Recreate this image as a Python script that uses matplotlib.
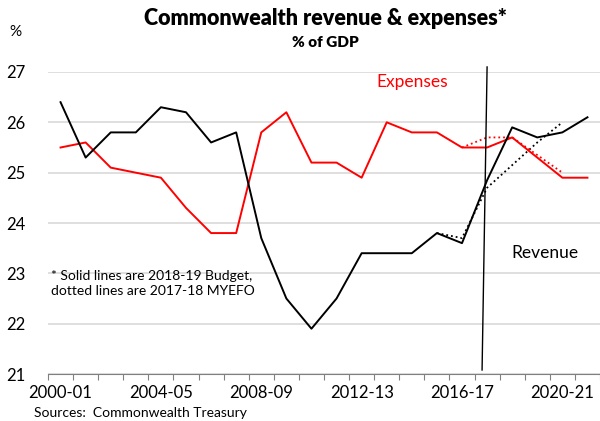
import matplotlib.pyplot as plt
import numpy as np

plt.rcParams['font.family'] = ['Lato', 'DejaVu Sans']

years = ['2000-01', '2001-02', '2002-03', '2003-04', '2004-05', '2005-06',
         '2006-07', '2007-08', '2008-09', '2009-10', '2010-11', '2011-12',
         '2012-13', '2013-14', '2014-15', '2015-16', '2016-17', '2017-18',
         '2018-19', '2019-20', '2020-21', '2021-22']

# 2018-19 Budget (solid)
revenue = [26.4, 25.3, 25.8, 25.8, 26.3, 26.2, 25.6, 25.8, 23.7, 22.5, 21.9,
           22.5, 23.4, 23.4, 23.4, 23.8, 23.6, 24.85, 25.9, 25.7, 25.8, 26.1]
expenses = [25.5, 25.6, 25.1, 25.0, 24.9, 24.3, 23.8, 23.8, 25.8, 26.2, 25.2,
            25.2, 24.9, 26.0, 25.8, 25.8, 25.5, 25.5, 25.7, 25.3, 24.9, 24.9]

# 2017-18 MYEFO (dotted)
myefo_rev_years = years[15:21]
myefo_revenue = [23.8, 23.7, 24.7, 25.15, 25.6, 26.0]
myefo_exp_years = years[16:21]
myefo_expenses = [25.5, 25.7, 25.7, 25.35, 25.0]

tick_labels = ['2000-01', '2004-05', '2008-09', '2012-13', '2016-17', '2020-21']

x = np.arange(len(years))
x_rev = [years.index(y) for y in myefo_rev_years]
x_exp = [years.index(y) for y in myefo_exp_years]

fig = plt.figure(figsize=(6, 4.21), dpi=100)
ax = fig.add_axes([0.08, 0.1116, 0.92, 0.7174])

ax.set_ylim(21, 27)
ax.set_xlim(-0.5, len(years) - 0.5)
ax.set_yticks(range(21, 28))
ax.grid(axis='y', color='#d9d9d9', linewidth=1.2)
ax.set_axisbelow(True)

# dotted MYEFO lines
ax.plot(x_rev, myefo_revenue, color='black', linestyle=':', linewidth=1.3)
ax.plot(x_exp, myefo_expenses, color='red', linestyle=':', linewidth=1.3)

ax.plot(x, expenses, color='red', linewidth=1.4)
ax.plot(x, revenue, color='black', linewidth=1.4)

# budget marker line
ax.plot([16.8, 17.0], [21.08, 27.1], color='black', linewidth=1, clip_on=False)

for s in ['top', 'right', 'left']:
    ax.spines[s].set_visible(False)
ax.spines['bottom'].set_color('#808080')

ax.set_xticks(np.arange(-0.5, len(years)), [''] * (len(years) + 1))
ax.tick_params(axis='x', which='major', direction='out', length=4, color='#808080')
ax.set_xticks([years.index(t) for t in tick_labels], tick_labels, minor=True)
ax.tick_params(axis='x', which='minor', length=0, pad=8, labelsize=12)
ax.tick_params(axis='y', length=0, labelsize=12, pad=16)

ax.text(14.0, 26.8, 'Expenses', color='red', fontsize=12.5, ha='center', va='center')
ax.text(19.3, 23.4, 'Revenue', color='black', fontsize=12.5, ha='center', va='center')
ax.text(-0.4, 22.8, '* Solid lines are 2018-19 Budget,\ndotted lines are 2017-18 MYEFO',
        fontsize=10, ha='left', va='center', linespacing=1.3)

fig.text(0.542, 0.955, 'Commonwealth revenue & expenses*', fontsize=15.5,
         fontweight='heavy', ha='center', va='center')
fig.text(0.542, 0.9, '% of GDP', fontsize=11, fontweight='heavy',
         ha='center', va='center')
fig.text(0.025, 0.925, '%', fontsize=11, ha='center', va='center')
fig.text(0.057, 0.018, 'Sources:  Commonwealth Treasury', fontsize=10,
         ha='left', va='center')

fig.savefig('out.png', dpi=100)
